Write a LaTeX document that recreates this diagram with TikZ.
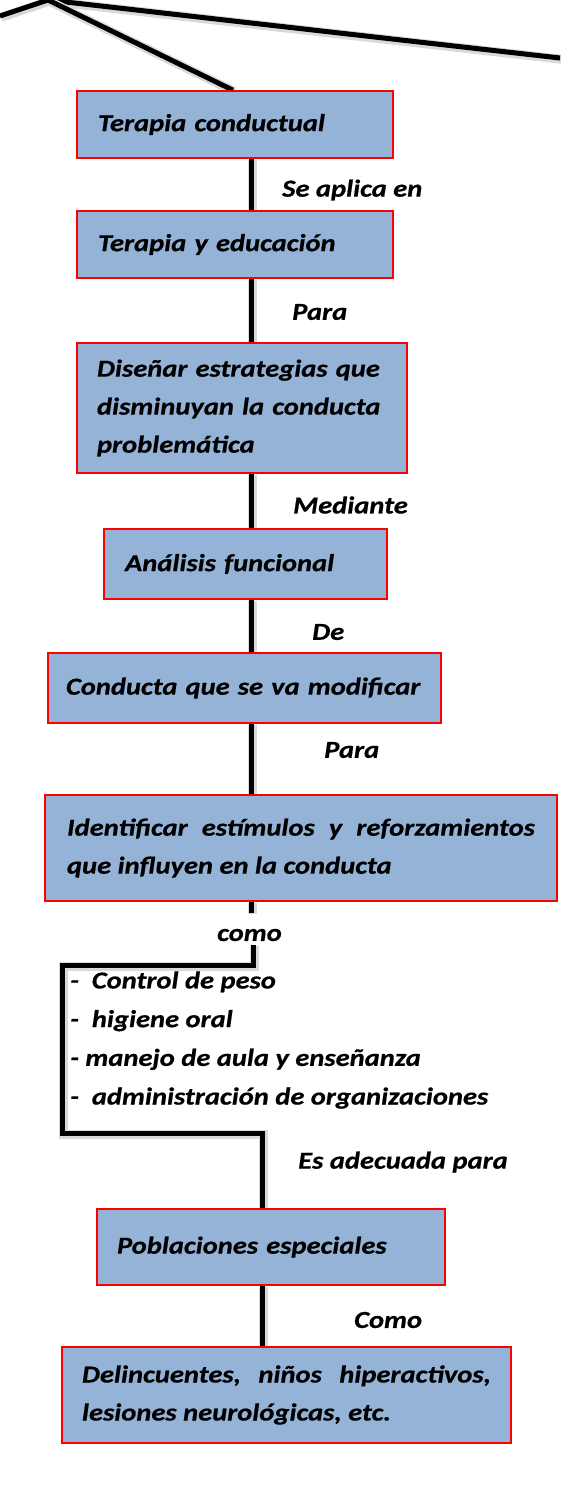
\documentclass[tikz,border=0pt]{standalone}
\usepackage{fontspec}
\setmainfont{Carlito}[FakeStretch=1.17,BoldItalicFeatures={FakeBold=0.6}]
\usetikzlibrary{backgrounds}
\definecolor{azul}{HTML}{95B3D7}

\begin{document}
\begin{tikzpicture}[x=1pt,y=-1pt,
  caja/.style={draw=red,line width=1.6pt,fill=azul,inner ysep=0pt,align=left,
    font=\bfseries\itshape\fontsize{24.4}{38}\selectfont},
  etiq/.style={anchor=west,inner sep=0pt,font=\bfseries\itshape\fontsize{24.4}{34}\selectfont},
  cable/.style={line width=5pt,line join=miter,
    preaction={draw=black!15,line width=9pt,transform canvas={shift={(1.2pt,-1.2pt)}}}}]
\useasboundingbox (0,0) rectangle (560,1510);

% cajas
\node[caja,minimum width=316,minimum height=67,inner xsep=21,text width=274] (b1) at (235,124.5) {Terapia conductual};
\node[caja,minimum width=316,minimum height=67,inner xsep=21,text width=274] (b2) at (235,244.5) {Terapia y educación};
\node[caja,minimum width=330,minimum height=130,inner xsep=20,text width=290] (b3) at (242,408) {\mbox{Diseñar estrategias que}\\\mbox{disminuyan la conducta}\\problemática};
\node[caja,minimum width=283,minimum height=70,inner xsep=21,text width=241] (b4) at (245.5,564) {Análisis funcional};
\node[caja,minimum width=393,minimum height=70,inner xsep=18,text width=357] (b5) at (244.5,688) {\mbox{Conducta que se va modificar}};
\node[caja,minimum width=512,minimum height=106,inner xsep=22,text width=468,align=justify] (b6) at (301,848) {Identificar estímulos y reforzamientos que influyen en la conducta};
\node[caja,minimum width=348,minimum height=76,inner xsep=20,text width=308] (b7) at (271,1247) {Poblaciones especiales};
\node[caja,minimum width=449,minimum height=96,inner xsep=20,text width=409,align=justify] (b8) at (286.5,1395) {Delincuentes,\ \ niños\ \ hiperactivos, lesiones neurológicas, etc.};

% etiquetas
\node[etiq] (l1) at (282,190) {Se aplica en};
\node[etiq] (l2) at (292,312) {Para};
\node[etiq] (l3) at (293,505) {Mediante};
\node[etiq] (l4) at (312,632) {De};
\node[etiq] (l5) at (324,750) {Para};
\node[etiq] (como) at (217,935) {como};
\node[etiq] (l7) at (298,1162) {Es adecuada para};
\node[etiq] (l8) at (354,1320) {Como};
\node[etiq,align=left,font=\bfseries\itshape\fontsize{24.4}{38.7}\selectfont] (lista) at (70,1040)
  {-\ \ Control de peso\\-\ \ higiene oral\\- manejo de aula y enseñanza\\-\ \ administración de organizaciones};

\coordinate (hub) at (48,0);
\coordinate (izqtop) at (0,16);
\coordinate (dertop) at (560,58);
\coordinate (trunk) at (251,0);
\coordinate (stub) at (251,913);
\coordinate (brk) at (253,945);
\coordinate (izq) at (62,965);
\coordinate (der) at (262,1133);

\begin{scope}[on background layer]
\draw[cable] (izqtop) -- (hub) -- (dertop);
\draw[cable] (hub) -- ([xshift=-2pt]b1.north);
\draw[cable] (b1.south -| trunk) -- (b2.north -| trunk);
\draw[cable] (b2.south -| trunk) -- (b3.north -| trunk);
\draw[cable] (b3.south -| trunk) -- (b4.north -| trunk);
\draw[cable] (b4.south -| trunk) -- (b5.north -| trunk);
\draw[cable] (b5.south -| trunk) -- (b6.north -| trunk);
\draw[cable] (b6.south -| trunk) -- (stub);
\draw[cable] (brk) |- (izq) |- (der) -- (der |- b7.north);
\draw[cable] (b7.south -| der) -- (b8.north -| der);
\end{scope}
\end{tikzpicture}
\end{document}
